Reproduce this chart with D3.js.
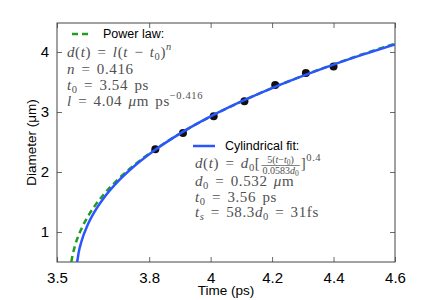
<!DOCTYPE html>
<html>
<head>
<meta charset="utf-8">
<script src="https://cdn.jsdelivr.net/npm/d3@7"></script>
<style>
  body { margin: 0; background: white; }
  .tick text { font-family: "Liberation Sans", Arial, sans-serif; }
</style>
</head>
<body>
<div id="container"></div>
<script>
let w = 436;
let h = 300;

// measured points
let timeData = [3.82, 3.91, 4.01, 4.11, 4.21, 4.31, 4.40];
let diamData = [2.38, 2.65, 2.93, 3.18, 3.45, 3.65, 3.76];

// power law curve (green dashed)
let powTime = [3.5466, 3.55, 3.56, 3.58, 3.60, 3.625, 3.65, 3.70, 3.75, 3.80, 3.90, 4.00, 4.10, 4.20, 4.30, 4.40, 4.50, 4.60];
let powDiam = [0.50, 0.595, 0.794, 1.059, 1.254, 1.449, 1.613, 1.885, 2.111, 2.307, 2.641, 2.925, 3.174, 3.399, 3.604, 3.794, 3.972, 4.139];

// cylindrical fit curve (blue)
let cylTime = [3.5653, 3.5675, 3.57, 3.58, 3.60, 3.625, 3.65, 3.70, 3.75, 3.80, 3.90, 4.00, 4.10, 4.20, 4.30, 4.40, 4.50, 4.60];
let cylDiam = [0.50, 0.558, 0.644, 0.850, 1.121, 1.362, 1.551, 1.851, 2.091, 2.296, 2.639, 2.926, 3.176, 3.399, 3.602, 3.790, 3.964, 4.127];

let xTicks = [3.5, 3.8, 4, 4.2, 4.4, 4.6];
let yTicks = [1, 2, 3, 4];

let pLeft = 57, pRight = 395, pTop = 23, pBottom = 262;

let x = d3.scaleLinear().domain([3.5, 4.6]).range([pLeft, pRight]);
let y = d3.scaleLinear().domain([0.5, 4.483]).range([pBottom, pTop]);

let viz = d3.select("#container")
  .append("svg")
  .attr("width", w)
  .attr("height", h)
  .style("background-color", "white");

// clip for curves
viz.append("clipPath").attr("id", "plotClip")
  .append("rect")
  .attr("x", pLeft).attr("y", pTop)
  .attr("width", pRight - pLeft).attr("height", pBottom - pTop);

// axes
let xAxis = viz.append("g")
  .attr("transform", "translate(0," + pBottom + ")")
  .call(d3.axisBottom(x).tickValues(xTicks).tickSizeInner(-5).tickSizeOuter(0).tickPadding(10)
    .tickFormat(d3.format("")));
let xTop = viz.append("g")
  .attr("transform", "translate(0," + pTop + ")")
  .call(d3.axisTop(x).tickValues(xTicks).tickSizeInner(-5).tickSizeOuter(0).tickFormat(""));
let yAxis = viz.append("g")
  .attr("transform", "translate(" + pLeft + ",0)")
  .call(d3.axisLeft(y).tickValues(yTicks).tickSizeInner(-5).tickSizeOuter(0).tickPadding(8)
    .tickFormat(d3.format("d")));
let yRight = viz.append("g")
  .attr("transform", "translate(" + pRight + ",0)")
  .call(d3.axisRight(y).tickValues(yTicks).tickSizeInner(-5).tickSizeOuter(0).tickFormat(""));

[xAxis, xTop, yAxis, yRight].forEach(function(a) {
  a.select(".domain").remove();
  a.selectAll("line").attr("stroke", "#444").attr("stroke-width", 0.8);
  a.selectAll("text").attr("font-size", 15).attr("fill", "black");
});

viz.append("rect")
  .attr("x", pLeft).attr("y", pTop)
  .attr("width", pRight - pLeft).attr("height", pBottom - pTop)
  .attr("fill", "none")
  .attr("stroke", "#444")
  .attr("stroke-width", 1);

// axis labels
viz.append("text")
  .attr("x", (pLeft + pRight) / 2)
  .attr("y", 295)
  .attr("text-anchor", "middle")
  .attr("font-family", "Liberation Sans, Arial, sans-serif")
  .attr("font-size", 13.5)
  .text("Time (ps)");

viz.append("text")
  .attr("transform", "translate(36," + (pTop + pBottom) / 2 + ") rotate(-90)")
  .attr("text-anchor", "middle")
  .attr("font-family", "Liberation Sans, Arial, sans-serif")
  .attr("font-size", 13.5)
  .text("Diameter (\u03bcm)");

// curves
let plot = viz.append("g").attr("clip-path", "url(#plotClip)");

let powLine = d3.line()
  .x((d, i) => x(powTime[i]))
  .y(d => y(d))
  .curve(d3.curveMonotoneX);
let cylLine = d3.line()
  .x((d, i) => x(cylTime[i]))
  .y(d => y(d))
  .curve(d3.curveMonotoneX);

plot.append("path")
  .attr("d", powLine(powDiam))
  .attr("fill", "none")
  .attr("stroke", "#1f9e1f")
  .attr("stroke-width", 2.5)
  .attr("stroke-dasharray", "6,4");

plot.selectAll(".dot")
  .data(diamData)
  .enter()
  .append("circle")
  .attr("class", "dot")
  .attr("cx", (d, i) => x(timeData[i]))
  .attr("cy", d => y(d))
  .attr("r", 4)
  .attr("fill", "#111");

plot.append("path")
  .attr("d", cylLine(cylDiam))
  .attr("fill", "none")
  .attr("stroke", "#2a55ff")
  .attr("stroke-width", 2.5);

// legend: power law
let serif = "Liberation Serif, Times New Roman, serif";
let sans = "Liberation Sans, Arial, sans-serif";
let grey = "#505050";

viz.append("line")
  .attr("x1", 72).attr("x2", 92).attr("y1", 34).attr("y2", 34)
  .attr("stroke", "#1f9e1f").attr("stroke-width", 2.5).attr("stroke-dasharray", "6,4");
viz.append("text")
  .attr("x", 103).attr("y", 38)
  .attr("font-family", sans).attr("font-size", 12.5)
  .text("Power law:");

function mathLine(px, py, parts) {
  let t = viz.append("text")
    .attr("x", px).attr("y", py)
    .attr("font-family", serif).attr("font-size", 15)
    .attr("letter-spacing", 0.6)
    .attr("word-spacing", 2)
    .attr("fill", grey);
  parts.forEach(function(p) {
    let s = t.append("tspan").text(p.t);
    if (p.i) s.attr("font-style", "italic");
    if (p.dy) s.attr("dy", p.dy);
    if (p.fs) s.attr("font-size", p.fs);
  });
  return t;
}

mathLine(67, 57, [
  {t: "d", i: 1}, {t: "("}, {t: "t", i: 1}, {t: ") = "}, {t: "l", i: 1}, {t: "("}, {t: "t", i: 1},
  {t: " \u2212 "}, {t: "t", i: 1}, {t: "0", dy: 3, fs: 10.5}, {t: ")", dy: -3}, {t: "n", i: 1, dy: -7, fs: 10.5}
]);
mathLine(67, 74, [{t: "n", i: 1}, {t: " = 0.416"}]);
mathLine(67, 90, [{t: "t", i: 1}, {t: "0", dy: 3, fs: 10.5}, {t: " = 3.54 ps", dy: -3}]);
mathLine(67, 106, [
  {t: "l", i: 1}, {t: " = 4.04 "}, {t: "\u03bc", i: 1}, {t: "m ps"}, {t: "\u22120.416", dy: -7, fs: 10.5}
]);

// legend: cylindrical fit
viz.append("line")
  .attr("x1", 193).attr("x2", 215).attr("y1", 146).attr("y2", 146)
  .attr("stroke", "#2a55ff").attr("stroke-width", 2.5);
viz.append("text")
  .attr("x", 225).attr("y", 150)
  .attr("font-family", sans).attr("font-size", 12.5)
  .text("Cylindrical fit:");

let head = mathLine(195, 168, [
  {t: "d", i: 1}, {t: "("}, {t: "t", i: 1}, {t: ") = "}, {t: "d", i: 1}, {t: "0", dy: 3, fs: 10.5}, {t: "[", dy: -3}
]);
// fraction
let fx = 195 + head.node().getComputedTextLength() + 1;
let num = viz.append("text").attr("y", 163)
  .attr("font-family", serif).attr("font-size", 10).attr("fill", grey)
  .html('5(<tspan font-style="italic">t</tspan>\u2212<tspan font-style="italic">t</tspan><tspan font-size="7.5" dy="2">0</tspan><tspan dy="-2">)</tspan>');
let den = viz.append("text").attr("y", 173.5)
  .attr("font-family", serif).attr("font-size", 10).attr("fill", grey)
  .html('0.0583<tspan font-style="italic">d</tspan><tspan font-size="7.5" dy="2">0</tspan>');
let nw = num.node().getComputedTextLength();
let dw = den.node().getComputedTextLength();
let fw = Math.max(nw, dw) + 2;
num.attr("x", fx + (fw - nw) / 2);
den.attr("x", fx + (fw - dw) / 2);
viz.append("line").attr("x1", fx).attr("x2", fx + fw).attr("y1", 165.5).attr("y2", 165.5)
  .attr("stroke", grey).attr("stroke-width", 0.7);
mathLine(fx + fw + 1, 168, [{t: "]"}, {t: "0.4", dy: -7, fs: 10.5}]);

mathLine(195, 186, [{t: "d", i: 1}, {t: "0", dy: 3, fs: 10.5}, {t: " = 0.532 ", dy: -3}, {t: "\u03bc", i: 1}, {t: "m"}]);
mathLine(195, 202, [{t: "t", i: 1}, {t: "0", dy: 3, fs: 10.5}, {t: " = 3.56 ps", dy: -3}]);
mathLine(195, 217, [
  {t: "t", i: 1}, {t: "s", i: 1, dy: 3, fs: 10.5}, {t: " = 58.3", dy: -3}, {t: "d", i: 1}, {t: "0", dy: 3, fs: 10.5},
  {t: " = 31fs", dy: -3}
]);
</script>
</body>
</html>
